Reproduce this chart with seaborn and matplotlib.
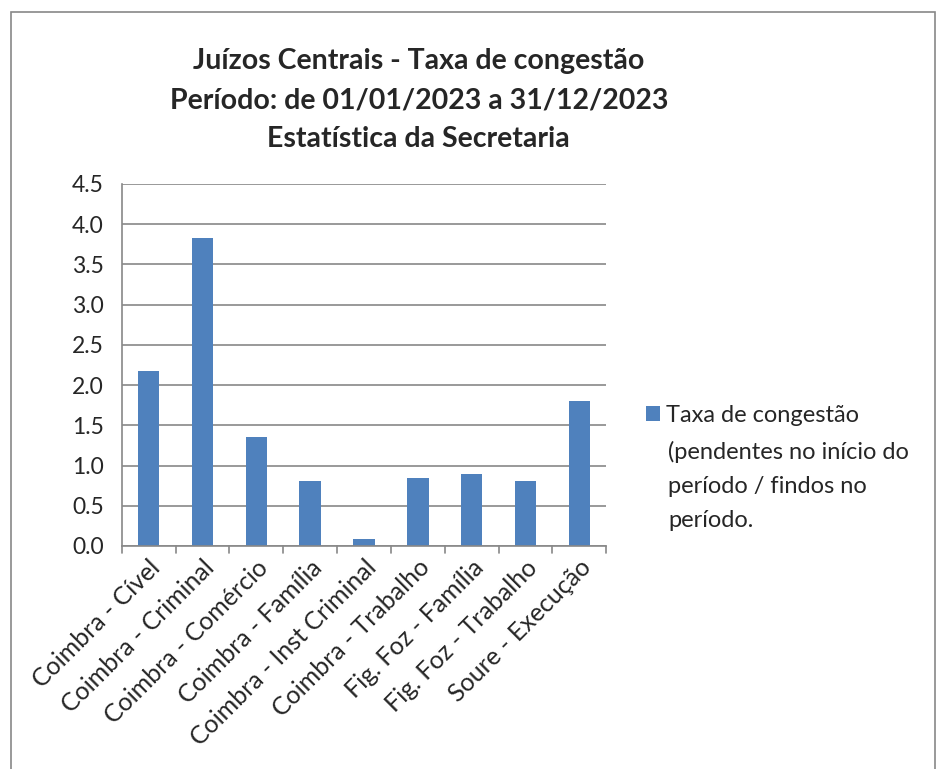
import matplotlib
matplotlib.use("Agg")
import matplotlib.pyplot as plt
import seaborn as sns
import pandas as pd
from matplotlib.patches import Rectangle, Patch

categories = ["Coimbra - Cível", "Coimbra - Criminal", "Coimbra - Comércio",
              "Coimbra - Família", "Coimbra - Inst Criminal", "Coimbra - Trabalho",
              "Fig. Foz - Família", "Fig. Foz - Trabalho", "Soure - Execução"]
values = [2.17, 3.83, 1.36, 0.805, 0.083, 0.85, 0.90, 0.81, 1.80]
yticks = [0.0, 0.5, 1.0, 1.5, 2.0, 2.5, 3.0, 3.5, 4.0, 4.5]
series_first_line = "Taxa de congestão"
series_rest = "(pendentes no início do\nperíodo / findos no\nperíodo."
title = "Juízos Centrais - Taxa de congestão\nPeríodo: de 01/01/2023 a 31/12/2023\nEstatística da Secretaria"

sns.set_style("white")
plt.rcParams['font.family'] = ['Lato', 'DejaVu Sans']

df = pd.DataFrame({"cat": categories, "val": values})

fig = plt.figure(figsize=(9.37, 7.69), dpi=100)
ax = fig.add_axes([0.130, 0.290, 0.517, 0.471])
bar_color = "#4F81BD"
sns.barplot(data=df, x="cat", y="val", color=bar_color, width=0.40, ax=ax,
            saturation=1, edgecolor="none")

ax.set_ylim(0, 4.5)
ax.set_xlim(-0.5, len(categories) - 0.5)
ax.set_yticks(yticks)
ax.set_yticklabels([f"{t:.1f}" for t in yticks], fontsize=16.5)
ax.yaxis.grid(True, color="#888888", linewidth=1.2)
ax.set_axisbelow(True)
ax.set_xlabel("")
ax.set_ylabel("")

ax.set_xticks(range(len(categories)))
ax.set_xticklabels(categories, rotation=45, ha="right", rotation_mode="anchor", fontsize=18)
ax.tick_params(axis="x", length=0, pad=7)
for b in [i - 0.5 for i in range(len(categories) + 1)]:
    ax.plot([b, b], [0, -0.09], color="#888888", lw=1.2, clip_on=False)
ax.tick_params(axis="y", length=8, color="#888888", width=1.2, direction="out", pad=5)

for s in ["top", "right"]:
    ax.spines[s].set_visible(False)
for s in ["left", "bottom"]:
    ax.spines[s].set_color("#888888")
    ax.spines[s].set_linewidth(1.2)

fig.text(0.447, 0.937, title, ha="center", va="top", fontsize=20.5, fontweight="bold",
         linespacing=1.6)

handle = Patch(facecolor=bar_color, edgecolor="none")
leg = fig.legend([handle], [series_first_line], loc="center left",
                 bbox_to_anchor=(0.689, 0.460), frameon=False, fontsize=17,
                 handlelength=0.62, handleheight=0.62, handletextpad=0.25,
                 borderaxespad=0, borderpad=0)
fig.text(0.713, 0.427, series_rest, ha="left", va="top", fontsize=17, linespacing=1.76)

fig.patches.append(Rectangle((0.012, -0.01), 0.986, 0.995, transform=fig.transFigure,
                             fill=False, edgecolor="#888888", linewidth=1.2))

fig.savefig("out.png", dpi=100)
